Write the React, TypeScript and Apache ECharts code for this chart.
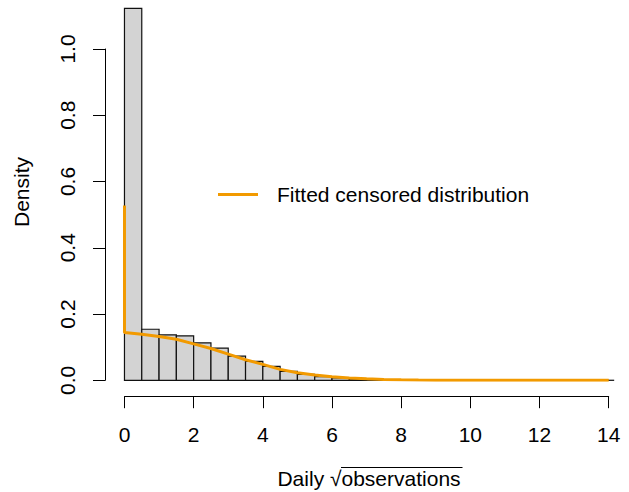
import React, { useEffect, useRef } from "react";
import * as echarts from "echarts";

// Histogram bin edges (sqrt of daily observations)
const binEdges = [
  0, 0.5, 1, 1.5, 2, 2.5, 3, 3.5, 4, 4.5, 5, 5.5, 6, 6.5, 7, 7.5, 8, 8.5, 9, 9.5,
  10, 10.5, 11, 11.5, 12, 12.5, 13, 13.5, 14, 14.14,
];
// Density of each bin
const binDensity = [
  1.122, 0.154, 0.137, 0.134, 0.113, 0.097, 0.073, 0.057, 0.042, 0.027, 0.018,
  0.011, 0.007, 0.004, 0.002, 0.0012, 0.0007, 0.0004, 0.0003, 0.0002, 0.0001,
  0.0001, 0, 0, 0, 0, 0, 0, 0.0001,
];
// Fitted censored distribution curve
const fitX = [
  0, 0, 0.5, 1, 1.5, 2, 2.5, 3, 3.5, 4, 4.5, 5, 5.5, 6, 6.5, 7, 7.5, 8, 8.5, 9,
  10, 11, 12, 13, 14,
];
const fitY = [
  0.527, 0.144, 0.139, 0.132, 0.124, 0.11, 0.096, 0.079, 0.062, 0.048, 0.033,
  0.023, 0.016, 0.011, 0.007, 0.0045, 0.0025, 0.0013, 0.0007, 0.0003, 0.0001, 0,
  0, 0, 0,
];
const xTicks = { min: 0, max: 14, interval: 2 };
const yTicks = { min: 0, max: 1, interval: 0.2 };
const seriesName = "Fitted censored distribution";
const xTitle = "Daily √observations";
const yTitle = "Density";

const FONT = "'Liberation Sans', Arial, Helvetica, sans-serif";
const ORANGE = "#F29A00";

export default function App() {
  const ref = useRef<HTMLDivElement>(null);
  useEffect(() => {
    if (!ref.current) return;
    const chart = echarts.init(ref.current, undefined, { renderer: "svg" });
    const bars = binDensity.map((d, i) => [binEdges[i], binEdges[i + 1], d]);
    const line = fitX.map((x, i) => [x, fitY[i]]);
    chart.setOption({
      animation: false,
      backgroundColor: "#ffffff",
      textStyle: { fontFamily: FONT },
      grid: [
        { left: 105.1, right: 0.9, top: 2.4, bottom: 111.7, outerBoundsMode: "none" },
        { left: 124.5, right: 20.3, top: 380, bottom: 95.3, outerBoundsMode: "none" },
        { left: 105, width: 1, top: 49, bottom: 111.7, outerBoundsMode: "none" },
      ],
      xAxis: [
        { gridIndex: 0, type: "value", min: -0.56, max: 14.56, show: false },
        {
          gridIndex: 1,
          type: "value",
          min: xTicks.min,
          max: xTicks.max,
          interval: xTicks.interval,
          position: "bottom",
          axisLine: { show: true, lineStyle: { color: "#000", width: 1 } },
          axisTick: { show: true, length: 11.5, lineStyle: { color: "#000", width: 1 } },
          axisLabel: { fontSize: 21, color: "#000", margin: 27, fontFamily: FONT },
          splitLine: { show: false },
        },
        { gridIndex: 2, type: "value", show: false },
      ],
      yAxis: [
        { gridIndex: 0, type: "value", min: 0, max: 1.14, show: false },
        { gridIndex: 1, type: "value", show: false },
        {
          gridIndex: 2,
          type: "value",
          min: yTicks.min,
          max: yTicks.max,
          interval: yTicks.interval,
          position: "left",
          axisLine: { show: true, lineStyle: { color: "#000", width: 1 } },
          axisTick: { show: true, length: 12, lineStyle: { color: "#000", width: 1 } },
          axisLabel: {
            fontSize: 21,
            color: "#000",
            margin: 27,
            rotate: 90,
            fontFamily: FONT,
            formatter: (v: number) => v.toFixed(1),
          },
          splitLine: { show: false },
        },
      ],
      legend: {
        data: [seriesName],
        left: 218,
        top: 184,
        padding: 0,
        icon: "rect",
        itemWidth: 40,
        itemHeight: 3,
        textStyle: { fontSize: 21, color: "#000", fontFamily: FONT, padding: [0, 0, 0, 14] },
      },
      series: [
        {
          type: "custom",
          xAxisIndex: 0,
          yAxisIndex: 0,
          data: bars,
          encode: { x: [0, 1], y: 2 },
          renderItem: (_params: any, api: any) => {
            const p0 = api.coord([api.value(0), api.value(2)]);
            const p1 = api.coord([api.value(1), 0]);
            return {
              type: "rect",
              shape: { x: p0[0], y: p0[1], width: p1[0] - p0[0], height: p1[1] - p0[1] },
              style: { fill: "#D3D3D3", stroke: "#111", lineWidth: 1.2 },
            };
          },
        },
        {
          type: "line",
          name: seriesName,
          xAxisIndex: 0,
          yAxisIndex: 0,
          data: line,
          showSymbol: false,
          symbol: "none",
          color: ORANGE,
          lineStyle: { color: ORANGE, width: 3 },
          z: 5,
        },
      ],
      graphic: [
        {
          type: "text",
          x: 21,
          y: 192,
          rotation: Math.PI / 2,
          style: {
            text: yTitle,
            fontSize: 21,
            fontFamily: FONT,
            fill: "#000",
            align: "center",
            verticalAlign: "middle",
          },
        },
        {
          type: "text",
          x: 369,
          y: 478,
          style: {
            text: xTitle,
            fontSize: 21,
            fontFamily: FONT,
            fill: "#000",
            align: "center",
            verticalAlign: "middle",
          },
        },
        {
          type: "line",
          shape: { x1: 341, y1: 467.5, x2: 462.5, y2: 467.5 },
          style: { stroke: "#000", lineWidth: 1.2 },
        },
      ],
    });
    return () => chart.dispose();
  }, []);
  return (
    <div
      ref={ref}
      style={{ position: "absolute", left: 0, top: 0, width: 629, height: 492 }}
    />
  );
}
